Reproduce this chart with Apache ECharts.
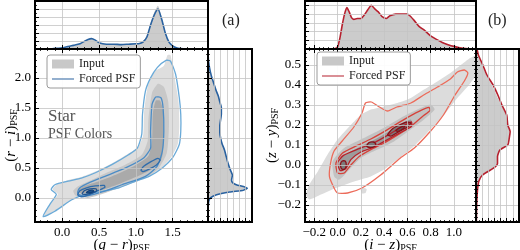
<!DOCTYPE html>
<html>
<head>
<meta charset="utf-8">
<script src="https://cdn.jsdelivr.net/npm/echarts@6/dist/echarts.min.js"></script>
<style>
html,body{margin:0;padding:0;background:#fff;}
#chart{width:520px;height:250px;}
</style>
</head>
<body>
<div id="chart"></div>
<script>
// ---- panel (a): marginal histograms ----
var aTopX = [-0.37,-0.2,-0.12,-0.05,0.0,0.05,0.1,0.15,0.2,0.25,0.3,0.35,0.4,0.45,0.5,0.55,0.6,0.7,0.8,0.9,1.0,1.05,1.1,1.15,1.2,1.25,1.3,1.35,1.4,1.45,1.5,1.55,1.6,1.7,1.98];
var aTopForced = [0,0,0.01,0.02,0.03,0.05,0.07,0.09,0.11,0.14,0.19,0.24,0.26,0.22,0.16,0.13,0.12,0.12,0.11,0.12,0.13,0.14,0.18,0.3,0.6,0.85,1.0,0.75,0.4,0.17,0.08,0.03,0.01,0,0];
var aTopInput = [0,0,0.01,0.02,0.03,0.04,0.06,0.08,0.1,0.13,0.18,0.23,0.25,0.2,0.15,0.13,0.12,0.12,0.12,0.12,0.13,0.15,0.2,0.34,0.65,0.92,1.08,0.8,0.42,0.18,0.08,0.03,0.01,0,0];
var aRightY = [-0.4,-0.2,-0.1,-0.05,0.0,0.05,0.1,0.13,0.16,0.19,0.22,0.26,0.3,0.38,0.45,0.5,0.6,0.7,0.8,0.9,1.0,1.1,1.2,1.3,1.4,1.5,1.6,1.7,1.8,1.9,2.0,2.1,2.2,2.3,2.48];
var aRightForced = [0,0,0.01,0.02,0.06,0.2,0.55,0.9,1.0,0.9,0.72,0.62,0.6,0.62,0.58,0.55,0.5,0.46,0.42,0.36,0.32,0.3,0.3,0.32,0.34,0.34,0.3,0.26,0.2,0.15,0.1,0.06,0.03,0.01,0];
var aRightInput = [0,0,0.01,0.02,0.05,0.17,0.5,0.85,0.95,0.88,0.72,0.62,0.6,0.6,0.57,0.55,0.5,0.46,0.42,0.37,0.33,0.31,0.31,0.33,0.35,0.35,0.31,0.27,0.21,0.16,0.11,0.07,0.04,0.02,0];

// ---- panel (a): contours, [g-r, r-i] ----
var aInputOuter = [[-0.25,-0.3],[-0.08,-0.2],[0.14,-0.02],[0.32,0.07],[0.55,0.12],[0.78,0.18],[1.0,0.29],[1.18,0.37],[1.35,0.5],[1.48,0.68],[1.57,0.9],[1.59,1.2],[1.58,1.6],[1.52,2.05],[1.47,2.38],[1.43,2.38],[1.38,2.2],[1.25,2.1],[1.16,1.85],[1.11,1.4],[1.1,1.05],[1.03,0.85],[0.9,0.74],[0.68,0.58],[0.45,0.44],[0.26,0.35],[0.08,0.3],[-0.08,0.22],[-0.13,0.14],[-0.06,0.06],[-0.16,-0.1]];
var aInputMid = [[0.18,0.04],[0.35,0.0],[0.55,0.07],[0.8,0.18],[1.1,0.32],[1.3,0.48],[1.42,0.75],[1.45,1.2],[1.44,1.6],[1.38,1.85],[1.3,1.9],[1.22,1.75],[1.17,1.3],[1.16,0.95],[1.08,0.72],[0.85,0.55],[0.6,0.42],[0.4,0.3],[0.22,0.2],[0.15,0.12]];
var aInputCore = [[0.25,0.08],[0.45,0.1],[0.7,0.2],[1.0,0.35],[1.22,0.48],[1.35,0.65],[1.38,1.0],[1.37,1.45],[1.33,1.62],[1.27,1.62],[1.23,1.4],[1.22,0.95],[1.17,0.7],[1.0,0.55],[0.75,0.4],[0.5,0.28],[0.3,0.2],[0.22,0.14]];
var aForced1 = [[-0.26,-0.31],[-0.1,-0.22],[0.13,-0.03],[0.31,0.06],[0.54,0.11],[0.77,0.17],[1.0,0.28],[1.18,0.36],[1.36,0.5],[1.5,0.67],[1.59,0.89],[1.61,1.11],[1.61,1.39],[1.59,1.67],[1.54,2.06],[1.47,2.28],[1.41,2.29],[1.29,2.17],[1.2,2.0],[1.13,1.78],[1.09,1.39],[1.08,1.06],[1.02,0.83],[0.9,0.72],[0.68,0.56],[0.45,0.42],[0.26,0.33],[0.08,0.28],[-0.1,0.22],[-0.15,0.14],[-0.08,0.06],[-0.17,-0.11]];
var aForced2 = [[0.22,0.06],[0.31,0.03],[0.54,0.1],[0.81,0.22],[1.13,0.36],[1.29,0.53],[1.36,0.78],[1.38,1.11],[1.37,1.5],[1.34,1.67],[1.27,1.68],[1.22,1.56],[1.2,1.11],[1.2,0.83],[1.11,0.67],[0.86,0.5],[0.58,0.36],[0.36,0.25],[0.24,0.17],[0.21,0.1]];
var aForced3a = [[0.21,0.05],[0.24,0.12],[0.33,0.17],[0.45,0.2],[0.57,0.21],[0.58,0.18],[0.48,0.12],[0.36,0.05],[0.26,0.02]];
var aForced3b = [[1.07,0.46],[1.1,0.52],[1.2,0.6],[1.3,0.66],[1.33,0.63],[1.28,0.55],[1.18,0.48],[1.1,0.44]];
var aForced4 = [[0.27,0.07],[0.3,0.12],[0.38,0.15],[0.46,0.15],[0.47,0.12],[0.4,0.08],[0.32,0.06]];
var aForced5 = [[0.33,0.09],[0.36,0.12],[0.41,0.13],[0.43,0.115],[0.4,0.095],[0.35,0.085]];

// ---- panel (b): marginal histograms ----
var bTopX = [-0.28,-0.05,-0.02,0.0,0.02,0.04,0.06,0.08,0.1,0.12,0.14,0.17,0.2,0.23,0.26,0.29,0.32,0.35,0.38,0.42,0.45,0.5,0.55,0.6,0.63,0.66,0.7,0.75,0.8,0.85,0.9,0.95,1.0,1.05,1.1,1.19];
var bTopForced = [0,0,0.01,0.05,0.25,0.55,0.8,0.95,0.85,0.72,0.68,0.7,0.7,0.78,0.9,1.0,0.92,0.85,0.75,0.7,0.76,0.8,0.8,0.8,0.74,0.65,0.52,0.42,0.3,0.22,0.15,0.1,0.06,0.03,0.01,0];
var bTopInput = [0,0,0.01,0.04,0.22,0.5,0.76,0.92,0.83,0.71,0.67,0.69,0.7,0.77,0.88,0.97,0.9,0.83,0.74,0.7,0.75,0.79,0.79,0.78,0.72,0.63,0.51,0.41,0.3,0.22,0.15,0.1,0.06,0.03,0.01,0];
var bRightY = [-0.285,-0.2,-0.133,-0.083,-0.05,-0.017,0.008,0.042,0.075,0.1,0.13,0.167,0.2,0.25,0.3,0.35,0.4,0.45,0.5,0.55,0.58];
var bRightForced = [0.01,0.02,0.04,0.08,0.19,0.5,0.63,0.63,0.7,0.93,0.97,1.0,0.93,0.9,0.76,0.64,0.5,0.32,0.2,0.07,0.03];
var bRightInput = [0.01,0.02,0.04,0.08,0.18,0.48,0.62,0.63,0.7,0.9,0.95,0.98,0.92,0.88,0.74,0.6,0.46,0.3,0.18,0.06,0.02];

// ---- panel (b): contours, [i-z, z-y] ----
var bInputOuter = [[-0.27,-0.148],[-0.243,-0.173],[-0.143,-0.148],[-0.014,-0.115],[0.143,-0.082],[0.286,-0.057],[0.4,-0.023],[0.514,0.027],[0.64,0.085],[0.77,0.16],[0.914,0.25],[1.03,0.335],[1.13,0.4],[1.21,0.47],[1.21,0.55],[1.14,0.535],[1.06,0.5],[0.97,0.46],[0.857,0.418],[0.743,0.377],[0.63,0.335],[0.514,0.31],[0.4,0.293],[0.286,0.277],[0.2,0.25],[0.114,0.2],[0.0,0.127],[-0.086,0.052],[-0.17,-0.032],[-0.243,-0.098]];
var bInputBlob = [[0.2,-0.125],[0.22,-0.115],[0.25,-0.12],[0.24,-0.14],[0.21,-0.142]];
var bInputMid = [[-0.029,-0.057],[-0.043,0.018],[0.057,0.085],[0.2,0.127],[0.371,0.177],[0.543,0.235],[0.686,0.277],[0.8,0.302],[0.834,0.277],[0.743,0.227],[0.629,0.177],[0.486,0.118],[0.343,0.077],[0.2,0.035],[0.086,-0.032],[0.014,-0.073]];
var bInputCore = [[0.014,-0.023],[0.029,0.035],[0.171,0.085],[0.343,0.135],[0.514,0.193],[0.629,0.227],[0.643,0.193],[0.529,0.16],[0.371,0.11],[0.229,0.077],[0.114,0.027],[0.057,-0.023]];
var bForced1 = [[0.0,-0.14],[0.086,-0.14],[0.21,-0.115],[0.37,-0.05],[0.54,0.035],[0.66,0.085],[0.8,0.17],[0.91,0.25],[1.01,0.35],[1.09,0.42],[1.12,0.46],[1.09,0.475],[1.03,0.465],[0.97,0.43],[0.86,0.39],[0.74,0.35],[0.63,0.31],[0.51,0.29],[0.43,0.27],[0.36,0.29],[0.29,0.315],[0.24,0.31],[0.21,0.26],[0.14,0.19],[0.04,0.12],[-0.03,0.07],[-0.06,0.01],[-0.07,-0.057],[-0.03,-0.115]];
var bForced2 = [[0.0,-0.04],[-0.014,0.01],[0.043,0.06],[0.17,0.098],[0.286,0.13],[0.43,0.177],[0.57,0.227],[0.7,0.268],[0.786,0.288],[0.794,0.272],[0.73,0.243],[0.63,0.193],[0.51,0.148],[0.4,0.11],[0.286,0.077],[0.186,0.043],[0.114,0.0],[0.057,-0.04]];
var bForced3 = [[0.023,-0.028],[0.0,0.01],[0.051,0.048],[0.186,0.082],[0.3,0.107],[0.429,0.148],[0.543,0.188],[0.634,0.215],[0.634,0.192],[0.549,0.165],[0.429,0.127],[0.314,0.09],[0.2,0.065],[0.114,0.027],[0.071,-0.018]];
var bForced4a = [[0.03,-0.015],[0.025,0.005],[0.04,0.02],[0.065,0.02],[0.075,0.0],[0.065,-0.018],[0.045,-0.022]];
var bForced4b = [[0.25,0.095],[0.27,0.112],[0.31,0.115],[0.33,0.104],[0.31,0.09],[0.27,0.088]];
var bForced4c = [[0.43,0.15],[0.47,0.18],[0.53,0.2],[0.6,0.215],[0.63,0.21],[0.6,0.19],[0.53,0.168],[0.46,0.145]];
var bForced5 = [[0.5,0.172],[0.54,0.188],[0.58,0.196],[0.56,0.18],[0.52,0.168]];

var FONT = 'Liberation Serif';
var blues = ['#6aaad8', '#4b8cc6', '#2f6cab', '#1f538f', '#123f75'];
var reds = ['#ec6b5a', '#d6423a', '#b5222a', '#8a0f18'];
var blueLine = '#2a62a0';
var redLine = '#b5202e';
var LINE_ICON = 'path://M0,0h0.01v0.01h-0.01zM0,4.2h30v1.6h-30zM29.99,9.99h0.01v0.01h-0.01z';

function tickFmt(step) {
	return function (v) {
		var k = v / step;
		if (Math.abs(k - Math.round(k)) > 1e-6) return '';
		return (Math.round(k) * step).toFixed(1).replace('-', '\u2212');
	};
}

function axisName(a, b) {
	return '{p|(}{i|' + a + '}{p| \u2212 }{i|' + b + '}{p|)}{s|PSF}';
}
var nameRich = {
	p: {fontFamily: FONT, fontSize: 15, color: '#000'},
	i: {fontFamily: FONT, fontSize: 15, fontStyle: 'italic', color: '#000'},
	s: {fontFamily: FONT, fontSize: 10, color: '#000', padding: [6, 0, 0, 0]}
};

// one value axis; labels only when fmt given
function axis(gridIndex, pos, min, max, split, o) {
	o = o || {};
	var a = {
		type: 'value', gridIndex: gridIndex, position: pos, min: min, max: max, splitNumber: split, z: 5,
		axisLine: {show: false, onZero: false},
		axisTick: {show: true, inside: true, length: 4, lineStyle: {color: '#000', width: 1}},
		minorTick: {show: true, splitNumber: o.minor || 5, length: 2, lineStyle: {color: '#000', width: 0.8}},
		splitLine: {show: !!o.grid, lineStyle: {color: '#c4c4c4', width: 0.8}},
		axisLabel: {show: !!o.fmt, formatter: o.fmt, fontFamily: FONT, fontSize: 13, color: '#000', margin: 4}
	};
	if (o.interval) a.interval = o.interval;
	if (o.name) {
		a.name = o.name;
		a.nameLocation = 'middle';
		a.nameGap = o.gap;
		a.nameMoveOverlap = false;
		a.nameTextStyle = {rich: nameRich};
	}
	return a;
}

// filled / outlined closed polygon drawn through the axes
function poly(name, pts, xi, yi, fill, stroke, lw, z) {
	return {
		type: 'custom', name: name, xAxisIndex: xi, yAxisIndex: yi, clip: true, silent: true, z: z || 2,
		data: pts,
		renderItem: function (params, api) {
			if (params.dataIndex !== 0) return null;
			var p = pts.map(function (d) { return api.coord(d); });
			return {
				type: 'polygon',
				shape: {points: p, smooth: 0.2},
				style: {fill: fill || 'none', stroke: stroke || 'none', lineWidth: lw || 0}
			};
		}
	};
}

function zip(xs, ys) {
	var out = [];
	for (var i = 0; i < xs.length; i++) out.push([xs[i], ys[i]]);
	return out;
}
// horizontal histogram fill: close the curve on x = 0
function sideFill(ys, vals) {
	var pts = zip(vals, ys);
	pts.push([0, ys[ys.length - 1]]);
	pts.push([0, ys[0]]);
	return pts;
}

function histLine(name, data, xi, yi, color) {
	return {type: 'line', name: name, xAxisIndex: xi, yAxisIndex: yi, data: data, symbol: 'none',
		smooth: 0.2, silent: true, z: 3, lineStyle: {color: color, width: 1.6}, itemStyle: {color: color}};
}

var chart = echarts.init(document.getElementById('chart'), null, {renderer: 'canvas'});

function box(l, t, w, h) {
	return {left: l, top: t, width: w, height: h, show: true, borderColor: '#000', borderWidth: 2,
		z: 10, backgroundColor: 'transparent', containLabel: false, outerBoundsMode: 'none'};
}

var series = [
	// (a) main
	poly('Input', aInputOuter, 0, 0, '#dedede'),
	poly('Input', aInputMid, 0, 0, '#c8c8c8'),
	poly('Input', aInputCore, 0, 0, '#aaaaaa'),
	poly('Forced PSF', aForced1, 0, 0, null, blues[0], 1.3, 3),
	poly('Forced PSF', aForced2, 0, 0, null, blues[1], 1.3, 3),
	poly('Forced PSF', aForced3a, 0, 0, null, blues[2], 1.3, 3),
	poly('Forced PSF', aForced3b, 0, 0, null, blues[2], 1.3, 3),
	poly('Forced PSF', aForced4, 0, 0, null, blues[3], 1.3, 3),
	poly('Forced PSF', aForced5, 0, 0, blues[3], blues[4], 1.3, 3),
	// (a) top histogram
	{type: 'line', name: 'Input', xAxisIndex: 2, yAxisIndex: 2, data: zip(aTopX, aTopInput), symbol: 'none',
		smooth: 0.2, silent: true, lineStyle: {width: 0}, areaStyle: {color: '#cccccc', opacity: 1}},
	histLine('Forced PSF', zip(aTopX, aTopForced), 2, 2, blueLine),
	// (a) right histogram
	poly('Input', sideFill(aRightY, aRightInput), 3, 3, '#cccccc'),
	histLine('Forced PSF', zip(aRightForced, aRightY), 3, 3, blueLine),

	// (b) main
	poly('Input (b)', bInputOuter, 4, 4, '#dcdcdc'),
	poly('Input (b)', bInputBlob, 4, 4, '#dcdcdc'),
	poly('Input (b)', bInputMid, 4, 4, '#c2c2c2'),
	poly('Input (b)', bInputCore, 4, 4, '#9c9c9c'),
	poly('Input (b)', bForced4c, 4, 4, '#7a7a7a'),
	poly('Forced PSF (b)', bForced1, 4, 4, null, reds[0], 1.3, 3),
	poly('Forced PSF (b)', bForced2, 4, 4, null, reds[1], 1.3, 3),
	poly('Forced PSF (b)', bForced3, 4, 4, null, reds[2], 1.3, 3),
	poly('Forced PSF (b)', bForced4a, 4, 4, '#7a7a7a', reds[3], 1.3, 3),
	poly('Forced PSF (b)', bForced4b, 4, 4, '#7a7a7a', reds[3], 1.3, 3),
	poly('Forced PSF (b)', bForced4c, 4, 4, null, reds[3], 1.3, 3),
	poly('Forced PSF (b)', bForced5, 4, 4, '#5a5a5a', reds[3], 1.2, 3),
	// (b) top histogram
	{type: 'line', name: 'Input (b)', xAxisIndex: 6, yAxisIndex: 6, data: zip(bTopX, bTopInput), symbol: 'none',
		smooth: 0.2, silent: true, lineStyle: {width: 0}, areaStyle: {color: '#cccccc', opacity: 1}},
	histLine('Forced PSF (b)', zip(bTopX, bTopForced), 6, 6, redLine),
	// (b) right histogram
	poly('Input (b)', sideFill(bRightY, bRightInput), 7, 7, '#cccccc'),
	histLine('Forced PSF (b)', zip(bRightForced, bRightY), 7, 7, redLine)
];

function legend(left, top, names, color) {
	return {
		left: left, top: top, orient: 'vertical', selectedMode: false, z: 20,
		data: [
			{name: names[0], icon: 'rect', itemStyle: {color: '#c8c8c8'}},
			{name: names[1], icon: LINE_ICON, itemStyle: {color: color}}
		],
		itemWidth: 22, itemHeight: 9, itemGap: 3, padding: [3, 5, 3, 5],
		borderColor: '#9a9a9a', borderWidth: 1, borderRadius: 3, backgroundColor: 'rgba(255,255,255,0.92)',
		formatter: function (n) { return n.replace(' (b)', ''); },
		textStyle: {fontFamily: FONT, fontSize: 12, color: '#222'}
	};
}

chart.setOption({
	animation: false,
	backgroundColor: '#fff',
	grid: [
		box(35, 49, 173, 173),   // a main
		box(35, 1, 173, 48),     // a top
		box(208, 49, 44, 173),   // a right
		box(305, 49, 171, 173),  // b main
		box(305, 1, 171, 48),    // b top
		box(476, 49, 43, 173)    // b right
	],
	xAxis: [
		axis(0, 'bottom', -0.37, 1.98, 5, {grid: true, fmt: tickFmt(0.5), name: axisName('g', 'r'), gap: 15}),
		axis(0, 'top', -0.37, 1.98, 5),
		axis(1, 'bottom', -0.37, 1.98, 5, {grid: true}),
		axis(2, 'bottom', 0, 1.12, 7, {grid: true, interval: 0.16, minor: 2}),
		axis(3, 'bottom', -0.28, 1.19, 7, {grid: true, fmt: tickFmt(0.2), name: axisName('i', 'z'), gap: 15}),
		axis(3, 'top', -0.28, 1.19, 7),
		axis(4, 'bottom', -0.28, 1.19, 7, {grid: true}),
		axis(5, 'bottom', 0, 1.26, 7, {grid: true, interval: 0.18, minor: 2})
	],
	yAxis: [
		axis(0, 'left', -0.4, 2.48, 6, {grid: true, fmt: tickFmt(0.5), name: axisName('r', 'i'), gap: 16}),
		axis(0, 'right', -0.4, 2.48, 6),
		axis(1, 'left', 0, 1.2, 6, {grid: true, interval: 0.2, minor: 2}),
		axis(2, 'left', -0.4, 2.48, 6, {grid: true}),
		axis(3, 'left', -0.285, 0.58, 8, {grid: true, fmt: tickFmt(0.1), name: axisName('z', 'y'), gap: 25}),
		axis(3, 'right', -0.285, 0.58, 8),
		axis(4, 'left', 0, 1.1, 5, {grid: true, interval: 0.2, minor: 2}),
		axis(5, 'left', -0.285, 0.58, 8, {grid: true})
	],
	legend: [
		legend(47, 55, ['Input', 'Forced PSF'], blueLine),
		legend(317, 52, ['Input (b)', 'Forced PSF (b)'], redLine)
	],
	graphic: [
		{type: 'text', left: 222, top: 13, style: {text: '(a)', fontFamily: FONT, fontSize: 16, fill: '#222'}},
		{type: 'text', left: 488, top: 13, style: {text: '(b)', fontFamily: FONT, fontSize: 16, fill: '#222'}},
		{type: 'text', left: 48, top: 108, style: {text: 'Star', fontFamily: FONT, fontSize: 17, fill: '#555'}},
		{type: 'text', left: 48, top: 127, style: {text: 'PSF Colors', fontFamily: FONT, fontSize: 14, fill: '#555'}}
	],
	series: series
});
</script>
</body>
</html>
